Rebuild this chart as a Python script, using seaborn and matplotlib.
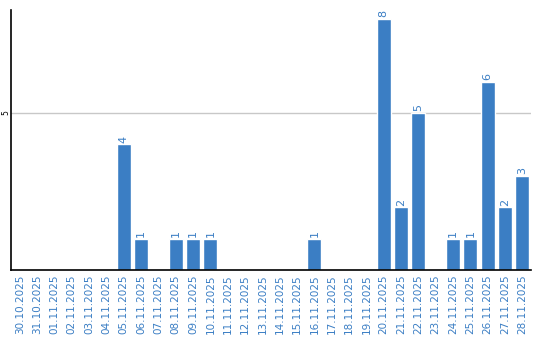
import matplotlib
matplotlib.use("Agg")
import matplotlib.pyplot as plt
import seaborn as sns
import pandas as pd

dates = ["30.10.2025", "31.10.2025", "01.11.2025", "02.11.2025", "03.11.2025",
         "04.11.2025", "05.11.2025", "06.11.2025", "07.11.2025", "08.11.2025",
         "09.11.2025", "10.11.2025", "11.11.2025", "12.11.2025", "13.11.2025",
         "14.11.2025", "15.11.2025", "16.11.2025", "17.11.2025", "18.11.2025",
         "19.11.2025", "20.11.2025", "21.11.2025", "22.11.2025", "23.11.2025",
         "24.11.2025", "25.11.2025", "26.11.2025", "27.11.2025", "28.11.2025"]
counts = [0, 0, 0, 0, 0, 0, 4, 1, 0, 1, 1, 1, 0, 0, 0, 0, 0, 1, 0, 0, 0,
          8, 2, 5, 0, 1, 1, 6, 2, 3]

blue = "#3b7ec4"
sns.set_theme(style="white")
plt.rcParams['font.family'] = ['DejaVu Sans']

df = pd.DataFrame({"date": dates, "count": counts})
fig = plt.figure(figsize=(5.4, 3.4), dpi=100)
ax = fig.add_axes([11/540, 70/340, 520/540, 260/340])
sns.barplot(data=df, x="date", y="count", color=blue, saturation=1, width=0.8, ax=ax)

ax.set_ylim(0, 8.28)
ax.set_xlim(-0.5, len(dates) - 0.5)
ax.set_yticks([5])
ax.set_yticklabels(["5"], rotation=90, va="center", fontsize=5.5, color="black")
ax.tick_params(axis="y", length=0, pad=0.5)
ax.tick_params(axis="x", length=0, pad=3)
ax.set_xticks(range(len(dates)))
ax.set_xticklabels(dates, rotation=90, fontsize=7.5, color=blue)
ax.axhline(5, color="#c8c8c8", lw=1, zorder=0)
ax.set_xlabel("")
ax.set_ylabel("")
for s in ["top", "right"]:
    ax.spines[s].set_visible(False)
for s in ["left", "bottom"]:
    ax.spines[s].set_color("black")
    ax.spines[s].set_linewidth(1.2)

for i, v in enumerate(counts):
    if v > 0:
        ax.text(i, v + 0.05, str(v), rotation=90, ha="center", va="bottom",
                fontsize=8, color=blue)

fig.savefig("out.png", dpi=100)
